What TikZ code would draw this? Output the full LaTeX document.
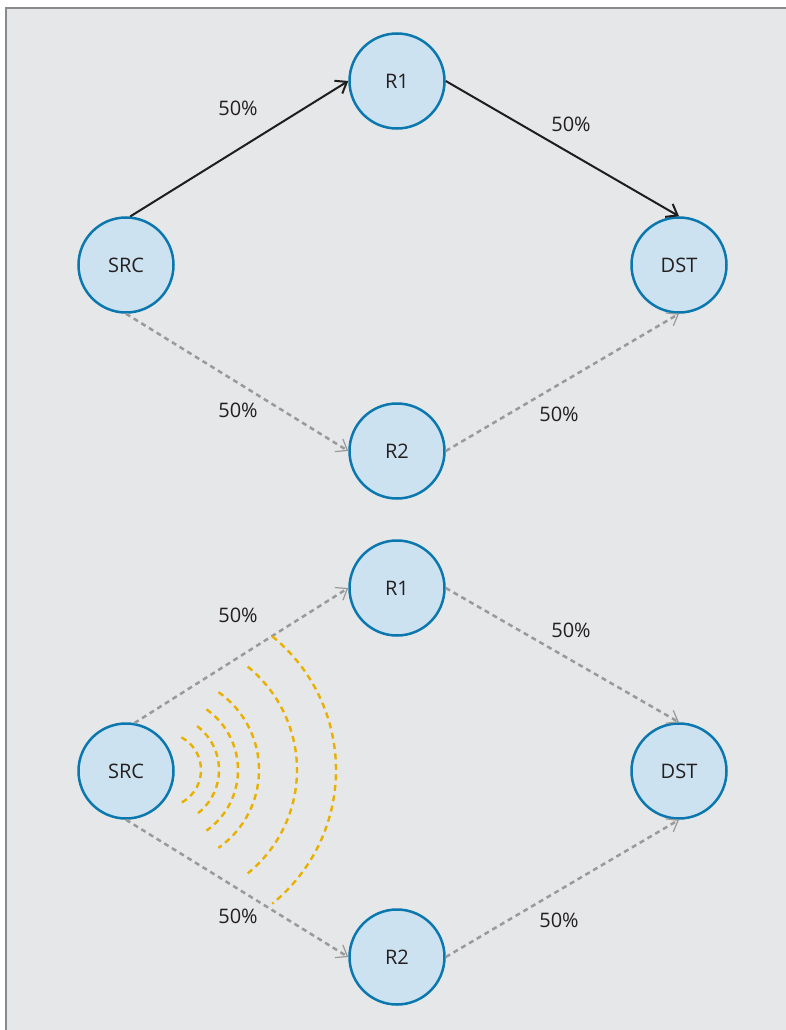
\documentclass[tikz,border=0pt]{standalone}
\usepackage{fontspec}
\setmainfont{Open Sans}
\usetikzlibrary{arrows.meta}
\definecolor{bgc}{HTML}{E6E7E9}
\definecolor{framec}{HTML}{8A8A8A}
\definecolor{nodeline}{HTML}{0A78AE}
\definecolor{nodefill}{HTML}{CDE2F0}
\definecolor{txt}{HTML}{231F20}
\definecolor{dashc}{HTML}{9A9A9A}
\definecolor{solidc}{HTML}{1E1E1E}
\definecolor{wavec}{HTML}{E8B000}
\begin{document}
\begin{tikzpicture}[x=1pt,y=-1pt,
  relay/.style={circle,draw=nodeline,fill=nodefill,line width=2.5pt,minimum size=95pt,inner sep=0pt,text=txt,font=\fontsize{20}{24}\selectfont},
  lbl/.style={text=txt,font=\fontsize{20}{24}\selectfont},
  solidarrow/.style={draw=solidc,line width=2pt,-{Straight Barb[length=10pt,width=15pt,line width=2pt]}},
  dasharrow/.style={draw=dashc,line width=2.5pt,dash pattern=on 5pt off 4pt,-{Straight Barb[length=10pt,width=15pt,line width=1.2pt]}},
  wave/.style={draw=wavec,line width=2.4pt,dash pattern=on 6pt off 4.5pt}]
\useasboundingbox (0,0) rectangle (785,1030);
\fill[white] (0,0) rectangle (785,1030);
\fill[bgc] (6,8) rectangle (790,1035);
\draw[framec,line width=1.5pt] (6,1035) -- (6,8) -- (790,8);
% top diagram
\node[relay] (s1) at (126,265) {SRC};
\node[relay] (a1) at (397,81) {R1};
\node[relay] (b1) at (397,451) {R2};
\node[relay] (d1) at (679,265) {DST};
\draw[solidarrow] (s1.85) -- (a1.west);
\draw[solidarrow] (a1.east) -- (d1.north);
\draw[dasharrow] (s1.south) -- (b1.west);
\draw[dasharrow] (b1.east) -- (d1.south);
\node[lbl] (l1) at (238,108) {50\%};
\node[lbl] (l2) at (571,124) {50\%};
\node[lbl] (l3) at (238,410) {50\%};
\node[lbl] (l4) at (559,414) {50\%};
% bottom diagram
\node[relay] (s2) at (126,771) {SRC};
\node[relay] (a2) at (397,588) {R1};
\node[relay] (b2) at (397,957) {R2};
\node[relay] (d2) at (679,771) {DST};
\draw[dasharrow] (s2.80) -- (a2.west);
\draw[dasharrow] (a2.east) -- (d2.north);
\draw[dasharrow] (s2.south) -- (b2.west);
\draw[dasharrow] (b2.east) -- (d2.south);
\node[lbl] (l5) at (238,615) {50\%};
\node[lbl] (l6) at (571,630) {50\%};
\node[lbl] (l7) at (238,916) {50\%};
\node[lbl] (l8) at (559,920) {50\%};
% waves
\coordinate (wc) at (164,770);
\foreach \r/\a in {37/62, 55/53, 74/55, 95/55, 133/51, 172/51} {
  \draw[wave] ([shift={(-\a:\r)}]wc) arc[start angle=-\a,end angle=\a,radius=\r];
}
\end{tikzpicture}
\end{document}
